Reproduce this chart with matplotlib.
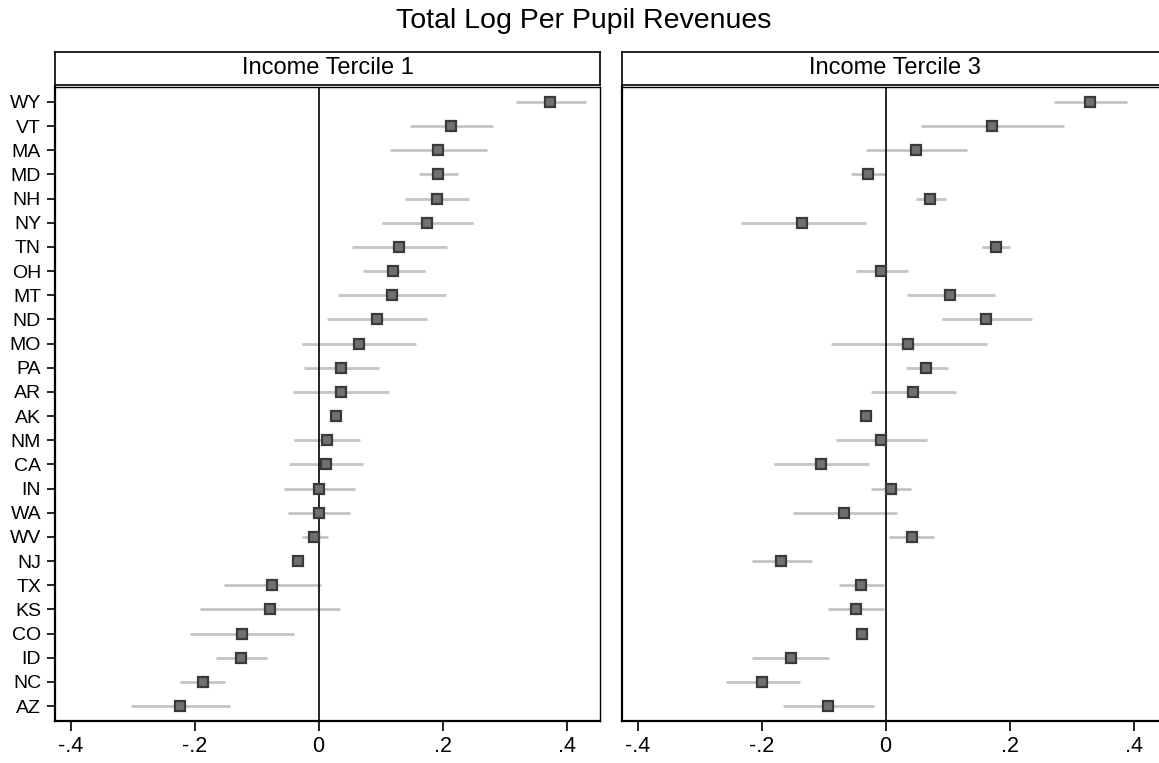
import numpy as np
import matplotlib
matplotlib.use("Agg")
import matplotlib.pyplot as plt

plt.rcParams['font.family'] = ['Liberation Sans', 'DejaVu Sans']

states = ["WY", "VT", "MA", "MD", "NH", "NY", "TN", "OH", "MT", "ND", "MO", "PA", "AR",
          "AK", "NM", "CA", "IN", "WA", "WV", "NJ", "TX", "KS", "CO", "ID", "NC", "AZ"]

# Income tercile 1: estimate, lower and upper CI
t1_est = [0.374, 0.214, 0.193, 0.193, 0.191, 0.175, 0.130, 0.120, 0.118, 0.094, 0.065, 0.036, 0.036,
          0.028, 0.014, 0.012, 0.001, 0.001, -0.007, -0.033, -0.075, -0.078, -0.124, -0.125, -0.187, -0.223]
t1_lo = [0.318, 0.147, 0.115, 0.162, 0.140, 0.102, 0.054, 0.071, 0.031, 0.014, -0.027, -0.023, -0.041,
         0.024, -0.040, -0.048, -0.056, -0.050, -0.027, -0.037, -0.152, -0.191, -0.207, -0.165, -0.223, -0.303]
t1_hi = [0.431, 0.281, 0.272, 0.225, 0.242, 0.249, 0.207, 0.172, 0.206, 0.175, 0.158, 0.097, 0.114,
         0.032, 0.067, 0.072, 0.059, 0.051, 0.015, -0.029, 0.004, 0.034, -0.040, -0.083, -0.151, -0.143]

# Income tercile 3
t3_est = [0.330, 0.172, 0.049, -0.028, 0.072, -0.134, 0.178, -0.007, 0.104, 0.162, 0.037, 0.065, 0.045,
          -0.031, -0.007, -0.104, 0.009, -0.067, 0.042, -0.168, -0.039, -0.048, -0.038, -0.153, -0.199, -0.092]
t3_lo = [0.271, 0.057, -0.031, -0.056, 0.049, -0.233, 0.155, -0.048, 0.034, 0.091, -0.088, 0.033, -0.023,
         -0.035, -0.080, -0.180, -0.023, -0.149, 0.005, -0.216, -0.075, -0.092, -0.034, -0.216, -0.258, -0.166]
t3_hi = [0.390, 0.288, 0.131, 0.000, 0.097, -0.032, 0.201, 0.036, 0.176, 0.236, 0.164, 0.101, 0.114,
         -0.027, 0.067, -0.027, 0.041, 0.018, 0.079, -0.119, -0.003, -0.002, -0.042, -0.091, -0.138, -0.018]

panels = [("Income Tercile 1", t1_est, t1_lo, t1_hi),
          ("Income Tercile 3", t3_est, t3_lo, t3_hi)]

xticks = [-0.4, -0.2, 0, 0.2, 0.4]
xticklabels = ["-.4", "-.2", "0", ".2", ".4"]

W, H = 1159, 763
fig = plt.figure(figsize=(W / 100, H / 100), dpi=100)

pos = np.arange(1, len(states) + 1)
lefts = [55, 622]
pw = 545

for i, (name, est, lo, hi) in enumerate(panels):
    ax = fig.add_axes([lefts[i] / W, (H - 721) / H, pw / W, 634 / H])
    ax.hlines(pos, lo, hi, color="#c4c4c4", lw=2, zorder=1)
    ax.plot(est, pos, ls="none", marker="s", ms=7.5, mfc="#707070", mec="#3a3a3a", mew=1.6, zorder=3)
    ax.axvline(0, color="black", lw=1.2, zorder=2)
    ax.set_xlim(-0.425, 0.454)
    ax.set_ylim(26.62, 0.38)
    ax.set_xticks(xticks)
    ax.set_xticklabels(xticklabels, fontsize=15.5)
    ax.set_yticks(pos)
    if i == 0:
        ax.set_yticklabels(states, fontsize=14)
        ax.tick_params(axis="y", length=6, width=1.2, pad=4)
    else:
        ax.set_yticklabels([])
        ax.tick_params(axis="y", length=0)
    ax.tick_params(axis="x", length=7, width=1.2, pad=4)
    for s in ax.spines.values():
        s.set_linewidth(1.0)
    ax.spines["left"].set_linewidth(1.6)
    ax.spines["bottom"].set_linewidth(1.6)

    # strip header
    sx = fig.add_axes([lefts[i] / W, (H - 85) / H, pw / W, 33.5 / H])
    sx.set_xticks([])
    sx.set_yticks([])
    for s in sx.spines.values():
        s.set_linewidth(1.2)
    sx.text(0.5, 0.5, name, ha="center", va="center", fontsize=17, transform=sx.transAxes)

fig.text(584 / W, 1 - 21 / H, "Total Log Per Pupil Revenues", ha="center", va="center", fontsize=20.5)

fig.savefig("out.png", dpi=100)
